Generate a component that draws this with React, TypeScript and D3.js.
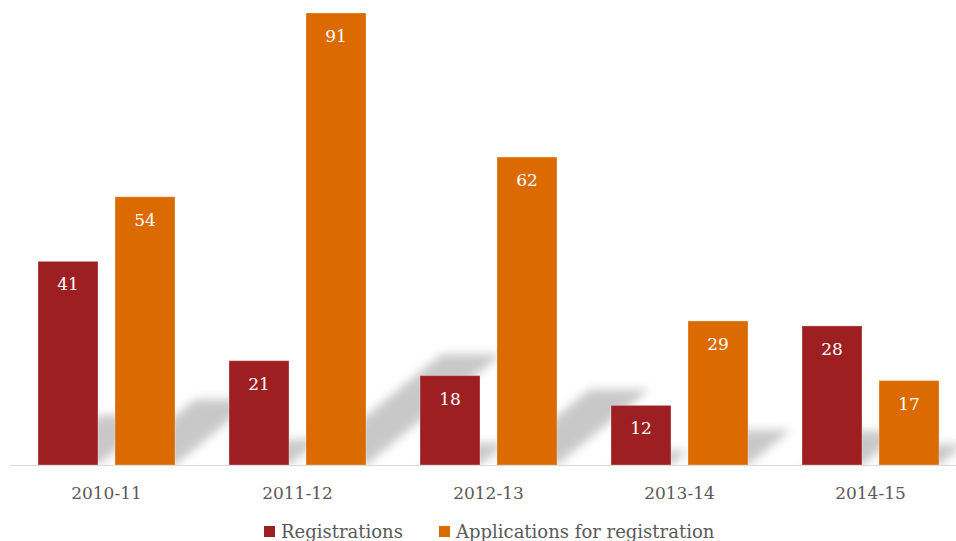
import React from "react";
import * as d3 from "d3";

const categories = ["2010-11", "2011-12", "2012-13", "2013-14", "2014-15"];
const registrations = [41, 21, 18, 12, 28];
const applications = [54, 91, 62, 29, 17];
const seriesNames = ["Registrations", "Applications for registration"];
const seriesColors = ["#9E1F22", "#DB6A00"];

const W = 956;
const H = 541;
const FONT = "'DejaVu Serif', Georgia, serif";

export default function App() {
  const x0 = d3.scaleBand<string>().domain(categories).range([11, 966]);
  const x1 = d3
    .scaleBand<string>()
    .domain(["reg", "app"])
    .range([0, x0.bandwidth()])
    .paddingInner(17 / 77)
    .paddingOuter(27 / 77);
  const y = d3.scaleLinear().domain([0, 91]).range([465, 13]);
  const base = y(0);

  const bars = categories.flatMap((c, i) => [
    { key: `r${i}`, cat: c, sub: "reg", value: registrations[i], color: seriesColors[0] },
    { key: `a${i}`, cat: c, sub: "app", value: applications[i], color: seriesColors[1] },
  ]);
  const bw = x1.bandwidth();

  const shadowPath = (b: any) => {
    const xl = (x0(b.cat) as number) + (x1(b.sub) as number);
    const h = base - y(b.value);
    const sh = h * 0.245;
    const sx = h * 0.3;
    const p = d3.path();
    p.moveTo(xl, base);
    p.lineTo(xl + bw, base);
    p.lineTo(xl + bw + sx, base - sh);
    p.lineTo(xl + sx, base - sh);
    p.closePath();
    return p.toString();
  };

  return (
    <svg
      width={W}
      height={H}
      style={{ position: "fixed", left: 0, top: 0, background: "#fff" }}
    >
      <defs>
        <filter id="blur" x="-30%" y="-60%" width="160%" height="220%">
          <feGaussianBlur stdDeviation="5" />
        </filter>
        <clipPath id="above">
          <rect x={0} y={0} width={W} height={base} />
        </clipPath>
      </defs>
      <g clipPath="url(#above)">
        {bars.map((b) => (
          <path key={"s" + b.key} d={shadowPath(b)} fill="#bfbfbf" opacity={0.85} filter="url(#blur)" />
        ))}
      </g>
      <line x1={10} x2={W} y1={base + 0.5} y2={base + 0.5} stroke="#d9d9d9" strokeWidth={1.2} />
      {bars.map((b) => {
        const xl = (x0(b.cat) as number) + (x1(b.sub) as number);
        return (
          <g key={b.key}>
            <rect
              x={xl}
              y={y(b.value)}
              width={bw}
              height={base - y(b.value)}
              fill={b.color}
              stroke="rgba(255,255,255,0.3)"
              strokeWidth={1}
            />
            <text
              x={xl + bw / 2}
              y={y(b.value) + 23}
              textAnchor="middle"
              dominantBaseline="central"
              fill="#fff"
              fontFamily={FONT}
              fontSize={17}
            >
              {b.value}
            </text>
          </g>
        );
      })}
      {categories.map((c) => (
        <text
          key={c}
          x={(x0(c) as number) + x0.bandwidth() / 2}
          y={493}
          textAnchor="middle"
          dominantBaseline="central"
          fill="#595959"
          fontFamily={FONT}
          fontSize={17}
        >
          {c}
        </text>
      ))}
      {seriesNames.map((s, i) => {
        const lx = [264, 439][i];
        return (
          <g key={s}>
            <rect x={lx} y={526} width={11} height={11} fill={seriesColors[i]} />
            <text
              x={lx + 17}
              y={531}
              dominantBaseline="central"
              fill="#595959"
              fontFamily={FONT}
              fontSize={18}
            >
              {s}
            </text>
          </g>
        );
      })}
    </svg>
  );
}
